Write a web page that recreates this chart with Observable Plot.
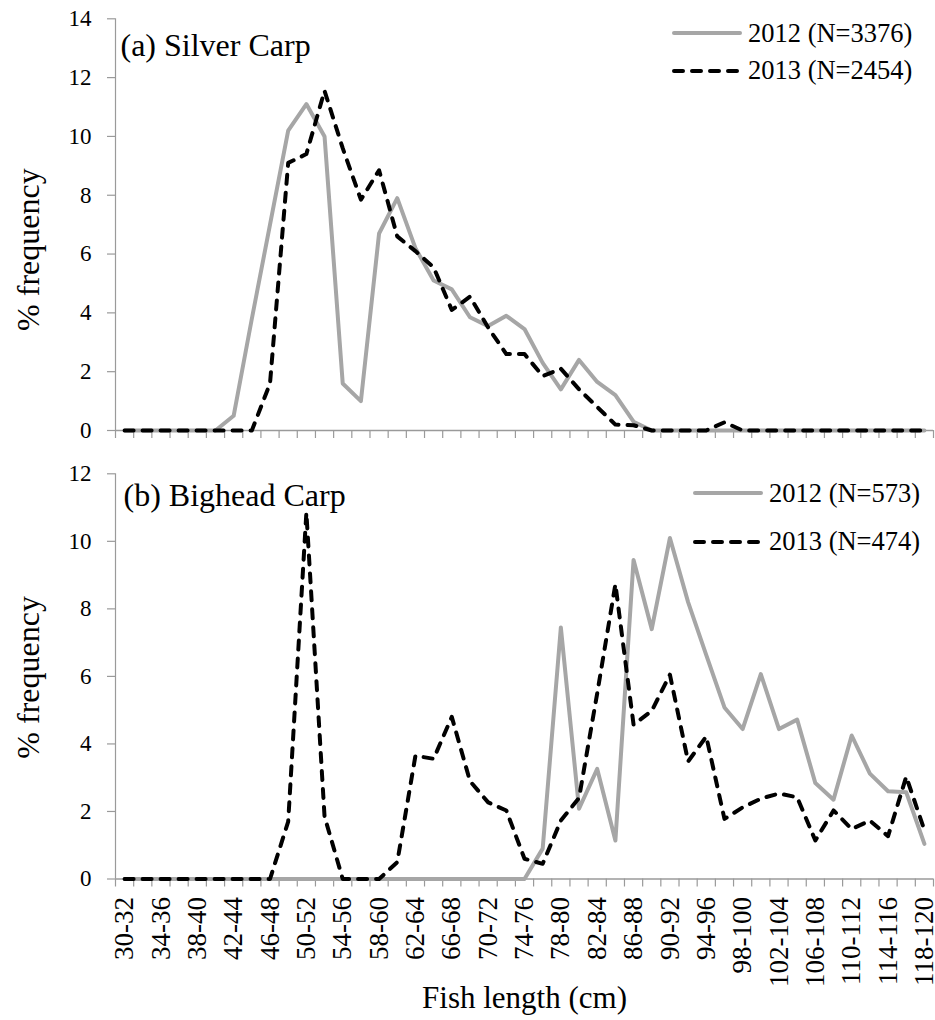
<!DOCTYPE html>
<html>
<head>
<meta charset="utf-8">
<script src="https://cdn.jsdelivr.net/npm/d3@7"></script>
<script src="https://cdn.jsdelivr.net/npm/@observablehq/plot@0.6"></script>
<style>
  html, body { margin: 0; padding: 0; background: #fff; }
  #wrap { position: relative; width: 935px; height: 1020px; font-family: "Liberation Serif", "DejaVu Serif", serif; }
  #wrap svg { display: block; }
  .legend { position: absolute; font-size: 26.5px; line-height: 1; color: #000; font-family: "Liberation Serif", "DejaVu Serif", serif; }
  .legend .row { position: absolute; left: 0; display: flex; align-items: center; height: 26px; white-space: nowrap; }
  .legend .row span { margin-left: 6px; }
</style>
</head>
<body>
<div id="wrap"></div>
<script>
// ---- data ----
const categories = ["30-32","32-34","34-36","36-38","38-40","40-42","42-44","44-46","46-48","48-50",
  "50-52","52-54","54-56","56-58","58-60","60-62","62-64","64-66","66-68","68-70",
  "70-72","72-74","74-76","76-78","78-80","80-82","82-84","84-86","86-88","88-90",
  "90-92","92-94","94-96","96-98","98-100","100-102","102-104","104-106","106-108","108-110",
  "110-112","112-114","114-116","116-118","118-120"];

const silver2012 = [0,0,0,0,0,0,0.5,3.8,7.0,10.2,
  11.1,10.0,1.6,1.0,6.7,7.9,6.2,5.1,4.8,3.85,
  3.55,3.9,3.45,2.3,1.4,2.4,1.65,1.2,0.3,0,
  0,0,0,0,0,0,0,0,0,0,
  0,0,0,0,0];
const silver2013 = [0,0,0,0,0,0,0,0,1.6,9.1,
  9.4,11.55,9.6,7.85,8.85,6.6,6.1,5.55,4.1,4.55,
  3.5,2.6,2.6,1.85,2.1,1.4,0.8,0.2,0.18,0,
  0,0,0,0.28,0,0,0,0,0,0,
  0,0,0,0,0];
const bighead2012 = [0,0,0,0,0,0,0,0,0,0,
  0,0,0,0,0,0,0,0,0,0,
  0,0,0,0.9,7.45,2.08,3.26,1.14,9.45,7.4,
  10.1,8.2,6.63,5.08,4.44,6.07,4.44,4.72,2.84,2.35,
  4.25,3.12,2.6,2.57,1.04];
const bighead2013 = [0,0,0,0,0,0,0,0,0,1.7,
  10.85,1.85,0,0,0,0.5,3.65,3.56,4.8,2.9,
  2.27,2.03,0.6,0.45,1.73,2.4,5.5,8.73,4.57,4.98,
  6.05,3.48,4.22,1.78,2.12,2.38,2.53,2.42,1.14,2.03,
  1.48,1.73,1.27,3.03,1.45];

const yTicksA = [0,2,4,6,8,10,12,14];
const yTicksB = [0,2,4,6,8,10,12];
const legendA = ["2012 (N=3376)", "2013 (N=2454)"];
const legendB = ["2012 (N=573)", "2013 (N=474)"];
const titleA = "(a) Silver Carp";
const titleB = "(b) Bighead Carp";
const yTitle = "% frequency";
const xTitle = "Fish length (cm)";

// ---- styles ----
const FONT = '"Liberation Serif", "DejaVu Serif", serif';
const GRAY = "#a6a6a6";
const AXIS = "#9a9a9a";
const toRows = arr => arr.map((v, i) => ({i, v}));
const boundaries = d3.range(categories.length + 1).map(i => i - 0.5);
const labelIdx = categories.map((c, i) => i).filter(i => i % 2 === 0);
const xDomain = [-0.5, categories.length - 0.5];

function panel({height, marginTop, marginBottom, yMax, yTicks, s2012, s2013, title, titleDx, titleDy, yTitleDy, bottom}) {
  const marks = [
    Plot.ruleX([xDomain[0]], {stroke: AXIS, strokeWidth: 1.2}),
    Plot.axisY(yTicks, {tickSize: 8, tickPadding: 16, fontSize: 23, stroke: AXIS, fill: "#000", strokeWidth: 1.2}),
    Plot.axisX(boundaries, {tickSize: 8, tickFormat: () => "", stroke: AXIS, strokeWidth: 1.2}),
    Plot.ruleY([0], {stroke: AXIS, strokeWidth: 1.5}),
    Plot.line(toRows(s2012), {x: "i", y: "v", stroke: GRAY, strokeWidth: 4, strokeLinejoin: "round", strokeLinecap: "round"}),
    Plot.line(toRows(s2013), {x: "i", y: "v", stroke: "#000", strokeWidth: 4, strokeDasharray: "9,9", strokeLinejoin: "round", strokeLinecap: "round"}),
    Plot.text([title], {frameAnchor: "top-left", textAnchor: "start", lineAnchor: "bottom", dx: titleDx, dy: titleDy, fontSize: 32, fill: "#000"}),
    Plot.text([yTitle], {frameAnchor: "left", rotate: -90, textAnchor: "middle", lineAnchor: "middle", dx: -87, dy: yTitleDy, fontSize: 32, fill: "#000"})
  ];
  if (bottom) {
    marks.push(Plot.axisX(labelIdx, {tickSize: 0, tickPadding: 18, tickRotate: -90, tickFormat: i => categories[i], fontSize: 27, fill: "#000"}));
    marks.push(Plot.text([xTitle], {frameAnchor: "bottom", textAnchor: "middle", lineAnchor: "bottom", dy: 129, fontSize: 31, fill: "#000"}));
  }
  return Plot.plot({
    width: 935, height, marginTop, marginBottom, marginLeft: 115, marginRight: 2,
    style: {fontFamily: FONT, background: "#fff", color: "#000", overflow: "visible"},
    x: {domain: xDomain, axis: null, label: null},
    y: {domain: [0, yMax], axis: null, label: null},
    marks
  });
}

const wrap = document.getElementById("wrap");
wrap.appendChild(panel({height: 445, marginTop: 18.3, marginBottom: 15, yMax: 14, yTicks: yTicksA,
  s2012: silver2012, s2013: silver2013, title: titleA, titleDx: 5, titleDy: 37, yTitleDy: 25, bottom: false}));
wrap.appendChild(panel({height: 575, marginTop: 28.3, marginBottom: 141.5, yMax: 12, yTicks: yTicksB,
  s2012: bighead2012, s2013: bighead2013, title: titleB, titleDx: 8, titleDy: 32, yTitleDy: 1, bottom: true}));

function legend(labels, left, centers) {
  const div = document.createElement("div");
  div.className = "legend";
  div.style.left = left + "px";
  div.style.top = "0px";
  labels.forEach((lab, k) => {
    const row = document.createElement("div");
    row.className = "row";
    row.style.top = (centers[k] - 13) + "px";
    const dash = k === 0 ? "" : 'stroke-dasharray="9,9"';
    const col = k === 0 ? GRAY : "#000";
    row.innerHTML = `<svg width="70" height="10"><line x1="2" y1="5" x2="68" y2="5" stroke="${col}" stroke-width="4" stroke-linecap="round" ${dash}/></svg><span>${lab}</span>`;
    div.appendChild(row);
  });
  wrap.appendChild(div);
}
legend(legendA, 672, [33.3, 70.7]);
legend(legendB, 693, [493.3, 541.7]);
</script>
</body>
</html>
